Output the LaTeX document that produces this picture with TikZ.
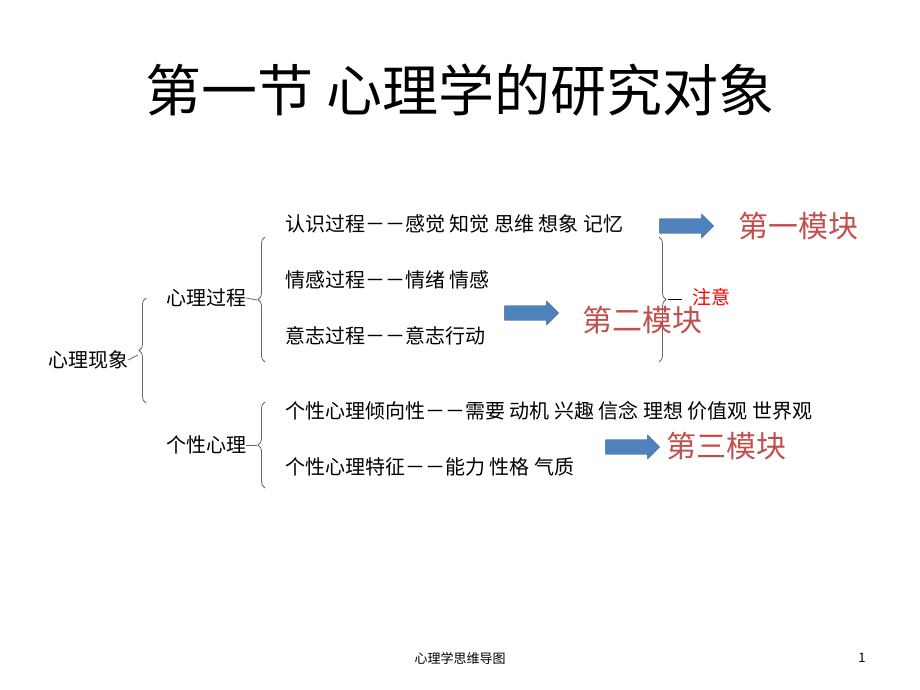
\documentclass[tikz,border=0pt]{standalone}
\usepackage{fontspec}
\setmainfont{Noto Sans CJK SC}
\usetikzlibrary{positioning, shapes.arrows, decorations.pathreplacing}
\definecolor{modred}{HTML}{C0504D}
\definecolor{arrowblue}{HTML}{4F81BD}
\definecolor{arrowedge}{HTML}{385D8A}

\begin{document}
\begin{tikzpicture}[
    x=1pt, y=-1pt,
    item/.style={anchor=west, inner sep=0pt, font=\fontsize{20}{20}\selectfont},
    head/.style={inner sep=0pt, font=\fontsize{20}{20}\selectfont},
    module/.style={inner sep=0pt, text=modred, font=\fontsize{30}{30}\selectfont},
    bracket/.style={draw=black!60, thick, decorate, decoration={brace, amplitude=7pt}},
    bluearrow/.style={single arrow, draw=arrowedge, fill=arrowblue, minimum height=54pt,
        minimum width=24pt, single arrow head extend=4pt, inner xsep=0pt, inner ysep=6pt}]

    \useasboundingbox (0,0) rectangle (920,690);

    \node [font=\fontsize{56}{56}\selectfont] (title) at (460,90) {第一节 心理学的研究对象};

    \node [head] (root) at (88,360) {心理现象};
    \node [head] (process) at (206,298) {心理过程};
    \node [head] (person) at (206,445) {个性心理};

    \node [item] (cog) at (285,224) {认识过程－－感觉 知觉 思维 想象 记忆};
    \node [item] (emo) at (285,280) {情感过程－－情绪 情感};
    \node [item] (will) at (285,336) {意志过程－－意志行动};
    \node [item] (tend) at (285,411) {个性心理倾向性－－需要 动机 兴趣 信念 理想 价值观 世界观};
    \node [item] (trait) at (285,467) {个性心理特征－－能力 性格 气质};

    % brackets
    \draw [bracket] (146,403) -- (146,298);
    \draw [black!60, thick] (root.east) -- (138,355);
    \draw [bracket] (265,362) -- (265,237);
    \draw [black!60, thick] (process.east) -- (257,300);
    \draw [bracket] (265,488) -- (265,402);
    \draw [black!60, thick] (person.east) -- (257,445);
    \draw [bracket] (659,237) -- (659,362);
    \coordinate (attn) at (682,299);
    \draw [thick] (668,299) -- (attn);
    \node [inner sep=0pt, text=red, font=\fontsize{19}{19}\selectfont, anchor=west] (focus) at (692,297) {注意};

    % arrows and modules
    \node [bluearrow] (a1) at (683,226) {};
    \node [bluearrow] (a2) at (528,313) {};
    \node [bluearrow] (a3) at (629,447) {};
    \node [module] (m1) at (798,226) {第一模块};
    \node [module] (m2) at (642,320) {第二模块};
    \node [module] (m3) at (726,446) {第三模块};

    \node [font=\fontsize{13}{13}\selectfont] (footer) at (460,658) {心理学思维导图};
    \node [font=\fontsize{13}{13}\selectfont] (page) at (862,658) {1};
\end{tikzpicture}
\end{document}
